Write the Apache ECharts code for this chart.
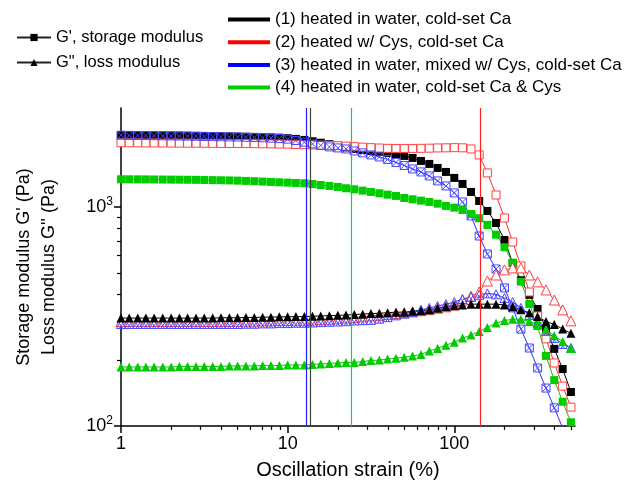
<!DOCTYPE html>
<html>
<head>
<meta charset="utf-8">
<script src="https://cdn.jsdelivr.net/npm/echarts@6/dist/echarts.min.js"></script>
<style>
  html, body { margin: 0; padding: 0; background: #fff; }
  #chart { width: 634px; height: 489px; }
</style>
</head>
<body>
<div id="chart"></div>
<script>
// 应变 strain (%)
const strain = [1, 1.12, 1.26, 1.41, 1.58, 1.78, 2, 2.24, 2.51, 2.82, 3.16, 3.55, 3.98, 4.47, 5.01, 5.62, 6.31, 7.08, 7.94, 8.91,
  10, 11.2, 12.6, 14.1, 15.8, 17.8, 20, 22.4, 25.1, 28.2, 31.6, 35.5, 39.8, 44.7, 50.1, 56.2, 63.1, 70.8, 79.4, 89.1,
  100, 112, 126, 141, 158, 178, 200, 224, 251, 282, 316, 355, 398, 447, 501]

// G' storage modulus (Pa)
const store1 = [2130, 2130, 2128, 2126, 2124, 2122, 2120, 2118, 2115, 2112,
  2110, 2107, 2104, 2100, 2096, 2092, 2088, 2083, 2078, 2072,
  2060, 2045, 2023, 1995, 1965, 1935, 1900, 1870, 1840, 1820,
  1802, 1785, 1765, 1740, 1710, 1674, 1622, 1572, 1507, 1445,
  1357, 1274, 1171, 1065, 959, 845, 707, 555, 463, 397,
  342, 277, 225, 182, 143]
const store2 = [1965, 1963, 1962, 1960, 1960, 1958, 1957, 1956, 1955, 1954,
  1953, 1952, 1950, 1949, 1948, 1947, 1945, 1943, 1940, 1938,
  1935, 1930, 1925, 1920, 1915, 1910, 1905, 1895, 1885, 1875,
  1865, 1858, 1852, 1850, 1850, 1850, 1852, 1855, 1860, 1862,
  1865, 1862, 1840, 1728, 1430, 1134, 891, 692, 538, 409,
  318, 250, 194, 152, 122]
const store3 = [2125, 2122, 2120, 2118, 2115, 2112, 2110, 2108, 2105, 2102,
  2099, 2095, 2092, 2088, 2085, 2080, 2077, 2070, 2062, 2052,
  2040, 2010, 1975, 1940, 1910, 1880, 1860, 1840, 1802, 1765,
  1728, 1692, 1648, 1597, 1547, 1491, 1445, 1386, 1315, 1247,
  1159, 1054, 910, 737, 610, 521, 427, 346, 277, 227,
  184, 149, 121, 98, 80]
const store4 = [1338, 1338, 1337, 1336, 1335, 1334, 1333, 1332, 1331, 1330,
  1328, 1326, 1324, 1322, 1319, 1315, 1311, 1306, 1301, 1296,
  1292, 1287, 1283, 1272, 1260, 1247, 1234, 1217, 1204, 1187,
  1171, 1155, 1138, 1123, 1099, 1084, 1069, 1054, 1035, 1011,
  993, 969, 929, 888, 828, 747, 655, 557, 456, 361,
  286, 209, 162, 129, 104]

// G'' loss modulus (Pa)
const loss1 = [311, 311, 311, 311, 311, 311, 311, 311, 311, 311,
  311, 311, 312, 312, 312, 313, 313, 314, 314, 315,
  315, 316, 316, 317, 318, 319, 320, 321, 323, 324,
  326, 327, 329, 331, 331, 334, 336, 339, 345, 350,
  354, 357, 360, 360, 360, 360, 357, 350, 339, 329,
  316, 300, 291, 277, 265]
const loss2 = [300, 300, 300, 300, 300, 300, 300, 300, 300, 300,
  300, 300, 300, 300, 300, 301, 301, 302, 302, 303,
  303, 304, 304, 305, 306, 307, 309, 311, 313, 315,
  318, 320, 323, 326, 329, 332, 336, 340, 345, 350,
  357, 376, 392, 409, 459, 489, 516, 527, 527, 489,
  455, 418, 376, 339, 302]
const loss3 = [292, 292, 292, 292, 292, 292, 292, 292, 292, 292,
  292, 292, 292, 292, 292, 293, 293, 294, 294, 295,
  295, 296, 296, 297, 298, 299, 300, 301, 303, 304,
  305, 309, 314, 320, 326, 332, 339, 346, 353, 360,
  368, 380, 388, 397, 403, 399, 384, 368, 346, 321,
  295, 272, 252, 237, 227]
const loss4 = [186, 186, 186, 186, 186, 186, 186, 187, 187, 187,
  187, 187, 187, 188, 188, 188, 188, 189, 189, 189,
  190, 190, 190, 191, 192, 193, 194, 195, 195, 197,
  199, 200, 202, 204, 206, 209, 212, 220, 226, 234,
  241, 252, 260, 270, 282, 295, 303, 307, 307, 300,
  291, 277, 258, 243, 226]

// 竖线 (临界应变)
const critStrain = [13.6, 144, 13.0, 24]

const sampleNames = [
  '(1) heated in water, cold-set Ca',
  '(2) heated w/ Cys, cold-set Ca',
  '(3) heated in water, mixed w/ Cys, cold-set Ca',
  '(4) heated in water, cold-set Ca & Cys'
]
const typeNames = ["G', storage modulus", 'G", loss modulus']

const xMajor = [1, 10, 100]
const xMinor = [2, 3, 4, 5, 6, 7, 8, 9, 20, 30, 40, 50, 60, 70, 80, 90, 200, 300, 400, 500]
const yMajor = [100, 1000]
const yMinor = [200, 300, 400, 500, 600, 700, 800, 900, 2000]

const font = 'Liberation Sans, Arial, sans-serif'
const colors = ['#000000', '#ff0000', '#0000ff', '#00cc00']
const lineColors = ['#000000', '#ff3030', '#3030ff', '#10c010']
const markColors = ['#444444', '#ff2020', '#2020ff', '#20d020']

const crossRect = 'path://M0,0H10V10H0Z M0,0L10,10 M10,0L0,10'
const crossTri = 'path://M5,0L10,9H0Z M3,3.6L7,9 M7,3.6L3,9'

function pairs(ys) {
  return strain.map((x, i) => [x, ys[i]])
}

// 每个样品的标记样式
const storeStyle = [
  { symbol: 'rect', size: 8, itemStyle: { color: '#000' } },
  { symbol: 'rect', size: 8, itemStyle: { color: '#fff', borderColor: '#ff4040', borderWidth: 1 } },
  { symbol: crossRect, size: 8, itemStyle: { color: 'rgba(255,255,255,0)', borderColor: '#4848ff', borderWidth: 1 } },
  { symbol: 'rect', size: 8, itemStyle: { color: '#00cc00' } }
]
const lossStyle = [
  { symbol: 'triangle', size: 9, itemStyle: { color: '#000' } },
  { symbol: 'triangle', size: 10, itemStyle: { color: '#fff', borderColor: '#ff4040', borderWidth: 1 } },
  { symbol: crossTri, size: 9, itemStyle: { color: 'rgba(255,255,255,0)', borderColor: '#4848ff', borderWidth: 1 } },
  { symbol: 'triangle', size: 9, itemStyle: { color: '#00cc00' } }
]

const stores = [store1, store2, store3, store4]
const losses = [loss1, loss2, loss3, loss4]

const series = []
for (let i = 0; i < 4; i++) {
  series.push({
    name: 'store' + i,
    type: 'line',
    data: pairs(stores[i]),
    symbol: storeStyle[i].symbol,
    symbolSize: storeStyle[i].size,
    itemStyle: storeStyle[i].itemStyle,
    lineStyle: { color: lineColors[i], width: 1 }
  })
}
// G'' 黑色最后画, 盖在上面
;[1, 2, 3, 0].forEach(i => {
  series.push({
    name: 'loss' + i,
    type: 'line',
    data: pairs(losses[i]),
    symbol: lossStyle[i].symbol,
    symbolSize: lossStyle[i].size,
    itemStyle: lossStyle[i].itemStyle,
    lineStyle: { color: lineColors[i], width: 1 }
  })
})
// 图例用的空系列 + 竖线
sampleNames.forEach((name, i) => {
  series.push({
    name: name,
    type: 'line',
    data: [],
    color: colors[i],
    itemStyle: { color: colors[i] },
    lineStyle: { color: colors[i] },
    markLine: {
      silent: true,
      symbol: ['none', 'none'],
      label: { show: false },
      itemStyle: { color: markColors[i] },
      lineStyle: { color: markColors[i], width: 1.2, type: 'solid', opacity: 1 },
      data: [{ xAxis: critStrain[i], lineStyle: { color: markColors[i] } }]
    }
  })
})
series.push({ name: typeNames[0], type: 'line', data: [], symbol: 'rect', symbolSize: 8, itemStyle: { color: '#000' }, lineStyle: { color: '#222', width: 1 } })
series.push({ name: typeNames[1], type: 'line', data: [], symbol: 'triangle', symbolSize: 9, itemStyle: { color: '#000' }, lineStyle: { color: '#222', width: 1 } })

const mychart = echarts.init(document.querySelector('#chart'))
const option = {
  animation: false,
  backgroundColor: '#fff',
  textStyle: { fontFamily: font },
  grid: { left: 121, right: 59, top: 108, bottom: 63 },
  legend: [
    {
      data: typeNames,
      orient: 'vertical',
      left: 16,
      top: 29,
      padding: 0,
      itemWidth: 34,
      itemHeight: 9,
      itemGap: 8,
      selectedMode: false,
      textStyle: { fontSize: 16.5, color: '#000', fontFamily: font }
    },
    {
      data: sampleNames,
      orient: 'vertical',
      left: 228,
      top: 11,
      padding: 0,
      icon: 'rect',
      itemWidth: 42,
      itemHeight: 4,
      itemGap: 5.7,
      selectedMode: false,
      textStyle: { fontSize: 17, color: '#000', fontFamily: font }
    }
  ],
  xAxis: [
    {
      type: 'log',
      logBase: 10,
      min: 1,
      max: 530,
      name: 'Oscillation strain (%)',
      nameLocation: 'middle',
      nameGap: 34,
      nameTextStyle: { fontSize: 20, color: '#000', fontFamily: font },
      axisLine: { lineStyle: { color: '#000', width: 1.5 } },
      axisTick: { length: 7, customValues: xMajor, lineStyle: { color: '#000', width: 1.5 } },
      axisLabel: { customValues: xMajor, fontSize: 18, color: '#000', margin: 9, fontFamily: font },
      splitLine: { show: false }
    },
    {
      type: 'log',
      logBase: 10,
      min: 1,
      max: 530,
      position: 'bottom',
      axisLine: { show: false },
      axisTick: { length: 4, customValues: xMinor, lineStyle: { color: '#000', width: 1.2 } },
      axisLabel: { show: false },
      splitLine: { show: false }
    }
  ],
  yAxis: [
    {
      type: 'log',
      logBase: 10,
      min: 100,
      max: 2830,
      name: "Storage modulus G' (Pa)\nLoss modulus G'' (Pa)",
      nameLocation: 'middle',
      nameRotate: 90,
      nameGap: 59,
      nameTextStyle: { fontSize: 18, lineHeight: 25, color: '#000', fontFamily: font },
      axisLine: { lineStyle: { color: '#000', width: 1.5 } },
      axisTick: { length: 7, customValues: yMajor, lineStyle: { color: '#000', width: 1.5 } },
      axisLabel: {
        customValues: yMajor,
        margin: 8,
        formatter: v => '{b|10}{s|' + Math.round(Math.log10(v)) + '}',
        rich: {
          b: { fontSize: 18, lineHeight: 22, color: '#000', fontFamily: font },
          s: { fontSize: 12, lineHeight: 12, verticalAlign: 'top', color: '#000', fontFamily: font }
        }
      },
      splitLine: { show: false }
    },
    {
      type: 'log',
      logBase: 10,
      min: 100,
      max: 2830,
      position: 'left',
      axisLine: { show: false },
      axisTick: { length: 4, customValues: yMinor, lineStyle: { color: '#000', width: 1.2 } },
      axisLabel: { show: false },
      splitLine: { show: false }
    }
  ],
  series: series
}
mychart.setOption(option)
</script>
</body>
</html>
